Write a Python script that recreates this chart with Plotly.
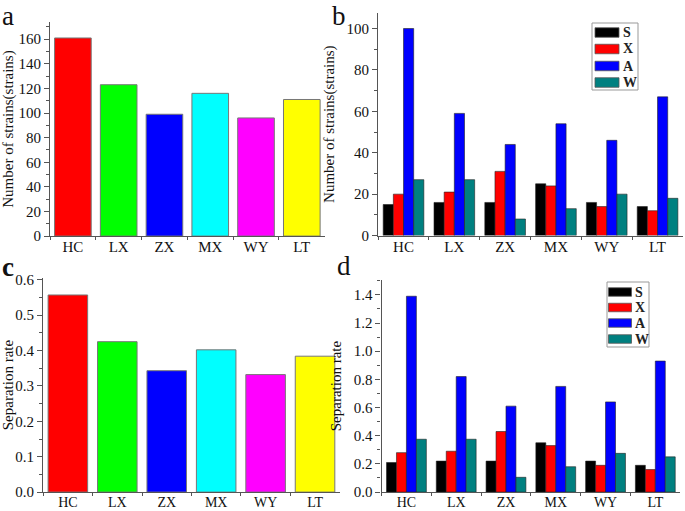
import plotly.graph_objects as go

# ---------------- data ----------------
sites = ["HC", "LX", "ZX", "MX", "WY", "LT"]
site_colors = ["#FF0000", "#00FF00", "#0000FF", "#00FFFF", "#FF00FF", "#FFFF00"]

strains_total = [161, 123, 99, 116, 96, 111]
separation_total = [0.557, 0.425, 0.343, 0.402, 0.332, 0.384]

groups = ["S", "X", "A", "W"]
group_colors = ["#000000", "#FF0000", "#0000FF", "#008080"]

strains_S = [15, 16, 16, 25, 16, 14]
strains_X = [20, 21, 31, 24, 14, 12]
strains_A = [100, 59, 44, 54, 46, 67]
strains_W = [27, 27, 8, 13, 20, 18]

rate_S = [0.21, 0.22, 0.22, 0.35, 0.22, 0.19]
rate_X = [0.28, 0.29, 0.43, 0.33, 0.19, 0.16]
rate_A = [1.39, 0.82, 0.61, 0.75, 0.64, 0.93]
rate_W = [0.375, 0.375, 0.105, 0.18, 0.275, 0.25]

strains_groups = [strains_S, strains_X, strains_A, strains_W]
rate_groups = [rate_S, rate_X, rate_A, rate_W]

# ---------------- figure ----------------
FONT = "Liberation Serif, Times New Roman, serif"
AXC = "#555555"

fig = go.Figure()

fig.add_trace(go.Bar(x=sites, y=strains_total, marker=dict(color=site_colors, line=dict(color="#777777", width=1)),
                     xaxis="x", yaxis="y", showlegend=False))
fig.add_trace(go.Bar(x=sites, y=separation_total, marker=dict(color=site_colors, line=dict(color="#777777", width=1)),
                     xaxis="x3", yaxis="y3", showlegend=False))
for name, col, sv, rv in zip(groups, group_colors, strains_groups, rate_groups):
    fig.add_trace(go.Bar(x=sites, y=sv, name=name, marker=dict(color=col, line=dict(color="#222222", width=0.6)),
                         xaxis="x2", yaxis="y2", showlegend=False, offsetgroup=name))
    fig.add_trace(go.Bar(x=sites, y=rv, name=name, marker=dict(color=col, line=dict(color="#222222", width=0.6)),
                         xaxis="x4", yaxis="y4", showlegend=False, offsetgroup=name))


def xax(domain, anchor, size=15):
    return dict(domain=domain, anchor=anchor, range=[-0.5, 5.5], showline=True, linecolor=AXC, linewidth=1.2,
                ticks="outside", tickson="boundaries", ticklen=3, tickcolor=AXC, showgrid=False, zeroline=False,
                automargin=False, ticklabelstandoff=-3,
                tickfont=dict(family=FONT, size=size, color="#111111"), mirror=False)


def yax(domain, anchor, rng, dtick, fmt, title, standoff):
    return dict(domain=domain, anchor=anchor, range=rng, showline=True, linecolor=AXC, linewidth=1.2,
                ticks="outside", ticklen=5, tickcolor=AXC, dtick=dtick, tick0=0, tickformat=fmt,
                minor=dict(ticks="outside", ticklen=3, tickcolor=AXC, dtick=dtick / 2, showgrid=False),
                showgrid=False, zeroline=False, automargin=False,
                tickfont=dict(family=FONT, size=15, color="#111111"),
                title=dict(text=title, font=dict(family=FONT, size=15, color="#111111"), standoff=standoff))


fig.update_layout(
    width=685, height=511, margin=dict(l=0, r=0, t=0, b=0),
    paper_bgcolor="white", plot_bgcolor="white",
    barmode="group", bargap=0.2, bargroupgap=0,
    font=dict(family=FONT, color="#111111"),
    xaxis=xax([0.073, 0.474], "y"),
    yaxis=yax([0.538, 0.957], "x", [0, 174], 20, "d", "Number of strains(strains)", 8),
    xaxis2=xax([0.552, 0.997], "y2"),
    yaxis2=yax([0.539, 0.975], "x2", [0, 107.6], 20, "d", "Number of strains(strains)", 8),
    xaxis3=xax([0.063, 0.496], "y3", 14),
    yaxis3=yax([0.037, 0.456], "x3", [0, 0.605], 0.1, ".1f", "Separation rate", 8),
    xaxis4=xax([0.557, 0.993], "y4", 14),
    yaxis4=yax([0.037, 0.452], "x4", [0, 1.505], 0.2, ".1f", "Separation rate", 8),
)

W, H = 685.0, 511.0
shapes = []
annotations = []


def px(x, y):
    return x / W, 1 - y / H


def add_legend(box, sw_x0, sw_x1, centers, sw_h, lab_x):
    (bx0, by0, bx1, by1) = box
    x0, y0 = px(bx0, by0)
    x1, y1 = px(bx1, by1)
    shapes.append(dict(type="rect", xref="paper", yref="paper", x0=x0, y0=y1, x1=x1, y1=y0,
                       line=dict(color="#999999", width=1), fillcolor="white", layer="above"))
    for name, col, cy in zip(groups, group_colors, centers):
        a0, b0 = px(sw_x0, cy - sw_h / 2)
        a1, b1 = px(sw_x1, cy + sw_h / 2)
        shapes.append(dict(type="rect", xref="paper", yref="paper", x0=a0, y0=b1, x1=a1, y1=b0,
                           line=dict(color="#555555", width=0.8), fillcolor=col, layer="above"))
        lx, ly = px(lab_x, cy)
        annotations.append(dict(text="<b>%s</b>" % name, x=lx, y=ly, xref="paper", yref="paper", xanchor="left",
                                yanchor="middle", showarrow=False,
                                font=dict(family=FONT, size=14, color="#222222")))


add_legend((592, 23, 638, 90), 595, 619, [32.5, 49, 66, 82.5], 9.5, 621)
add_legend((607, 282, 649, 347), 608.5, 631.5, [292, 307.5, 323, 339], 8.5, 633)

for letter, x, y, bold in [("a", 1, 0, False), ("b", 331, 0, False), ("c", 1, 251, True), ("d", 336, 250, False)]:
    lx, ly = px(x, y)
    annotations.append(dict(text=("<b>%s</b>" % letter) if bold else letter, x=lx, y=ly, xref="paper", yref="paper",
                            xanchor="left", yanchor="top", showarrow=False, borderpad=0,
                            font=dict(family=FONT, size=27, color="#111111")))

fig.update_layout(shapes=shapes, annotations=annotations)
fig.write_html("out.html", config={"displayModeBar": False},
               post_script="document.body.style.margin='0';document.body.style.overflow='hidden';")
